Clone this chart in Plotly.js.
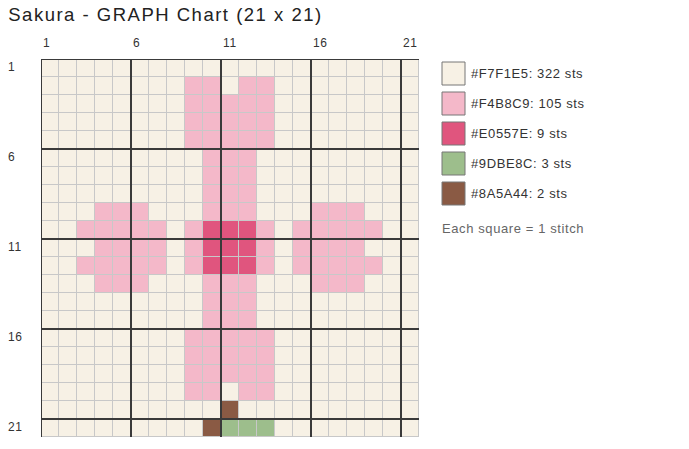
<!DOCTYPE html>
<html>
<head>
<meta charset="utf-8">
<script src="https://cdn.plot.ly/plotly-3.0.1.min.js"></script>
<style>
  html, body { margin: 0; padding: 0; background: #fff; }
  #chart { width: 689px; height: 449px; }
  /* the reference text is set a little looser than Arial */
  #chart .gtitle { letter-spacing: 1.5px; }
  #chart .annotation-text { letter-spacing: 0.6px; }
</style>
</head>
<body>
<div id="chart"></div>
<script>
    // pattern rows, one char per stitch
    var codes = ['.', 'p', 'd', 'g', 'b'];
    var threadColors = ['#F7F1E5', '#F4B8C9', '#E0557E', '#9DBE8C', '#8A5A44'];
    var rows = [
        '.....................',
        '........pp.pp........',
        '........ppppp........',
        '........ppppp........',
        '........ppppp........',
        '.........ppp.........',
        '.........ppp.........',
        '.........ppp.........',
        '...ppp...ppp...ppp...',
        '..ppppp.pdddp.ppppp..',
        '...pppp.pdddp.pppp...',
        '..ppppp.pdddp.ppppp..',
        '...ppp...ppp...ppp...',
        '.........ppp.........',
        '.........ppp.........',
        '........ppppp........',
        '........ppppp........',
        '........ppppp........',
        '........pp.pp........',
        '..........b..........',
        '.........bggg........'
    ];
    var labelEvery = 5;

    var n = rows.length;
    var idx = [], counts = [0, 0, 0, 0, 0], xs = [], ys = [];
    for (var i = 0; i < n; i++) {
        ys.push(i + 1);
        var r = [];
        for (var j = 0; j < rows[i].length; j++) {
            var k = codes.indexOf(rows[i][j]);
            r.push(k);
            counts[k]++;
        }
        idx.push(r);
    }
    for (var j = 0; j < rows[0].length; j++) xs.push(j + 1);

    var scale = threadColors.map(function (c, k) { return [k / (threadColors.length - 1), c]; });

    var cells = {
        type: 'heatmap',
        x: xs,
        y: ys,
        z: idx,
        zmin: 0,
        zmax: threadColors.length - 1,
        colorscale: scale,
        showscale: false,
        xgap: 1,
        ygap: 1,
        hoverinfo: 'skip'
    };

    var shapes = [];
    var annotations = [];
    // heavy lines every 5 stitches
    for (var b = 0; b < n; b += labelEvery) {
        shapes.push({type: 'line', xref: 'x', yref: 'y', x0: b + 0.5, x1: b + 0.5, y0: 0.5, y1: n + 0.5,
                     line: {color: '#3a3a3a', width: 2}, layer: 'above'});
        shapes.push({type: 'line', xref: 'x', yref: 'y', y0: b + 0.5, y1: b + 0.5, x0: 0.5, x1: n + 0.5,
                     line: {color: '#3a3a3a', width: 2}, layer: 'above'});
        annotations.push({text: String(b + 1), xref: 'x', yref: 'paper', x: b + 0.5, y: 1, align: 'left',
                          xanchor: 'left', yanchor: 'bottom', xshift: 0, yshift: 7, showarrow: false,
                          font: {size: 12, color: '#333'}});
        annotations.push({text: String(b + 1), xref: 'paper', yref: 'y', x: 0, y: b + 1, align: 'left',
                          xanchor: 'left', yanchor: 'middle', xshift: -35, yshift: 1, showarrow: false,
                          font: {size: 12, color: '#333'}});
    }

    // key
    for (var k = 0; k < threadColors.length; k++) {
        shapes.push({type: 'rect', xref: 'paper', yref: 'paper', xsizemode: 'pixel', ysizemode: 'pixel',
                     xanchor: 1, yanchor: 1, x0: 23, x1: 46, y0: -3 - 30 * k, y1: -26 - 30 * k,
                     fillcolor: threadColors[k], line: {color: '#777', width: 1}});
        annotations.push({text: threadColors[k] + ': ' + counts[k] + ' sts', xref: 'paper', yref: 'paper',
                          x: 1, y: 1, xanchor: 'left', yanchor: 'middle', align: 'left', xshift: 50,
                          yshift: -14 - 30 * k, showarrow: false, font: {size: 13, color: '#333'}});
    }
    annotations.push({text: 'Each square = 1 stitch', xref: 'paper', yref: 'paper', x: 1, y: 1,
                      xanchor: 'left', yanchor: 'middle', align: 'left', xshift: 21, yshift: -169,
                      showarrow: false, font: {size: 13, color: '#666'}});

    var layout = {
        width: 689,
        height: 449,
        margin: {l: 41, r: 270, t: 59, b: 12},
        paper_bgcolor: '#fff',
        plot_bgcolor: '#c8c8c8',
        font: {family: 'Liberation Sans, Arial, sans-serif', color: '#333'},
        title: {text: 'Sakura - GRAPH Chart (' + n + ' x ' + n + ')', xref: 'container', yref: 'container',
                x: 0.012, xanchor: 'left', y: 0.967, yanchor: 'middle',
                font: {size: 18.5, color: '#222'}},
        xaxis: {range: [0.5, n + 0.5], showticklabels: false, ticks: '', showgrid: false, zeroline: false,
                fixedrange: true},
        yaxis: {range: [n + 0.5, 0.5], showticklabels: false, ticks: '', showgrid: false, zeroline: false,
                fixedrange: true},
        shapes: shapes,
        annotations: annotations,
        showlegend: false
    };

    Plotly.newPlot('chart', [cells], layout, {displayModeBar: false});
</script>
</body>
</html>
